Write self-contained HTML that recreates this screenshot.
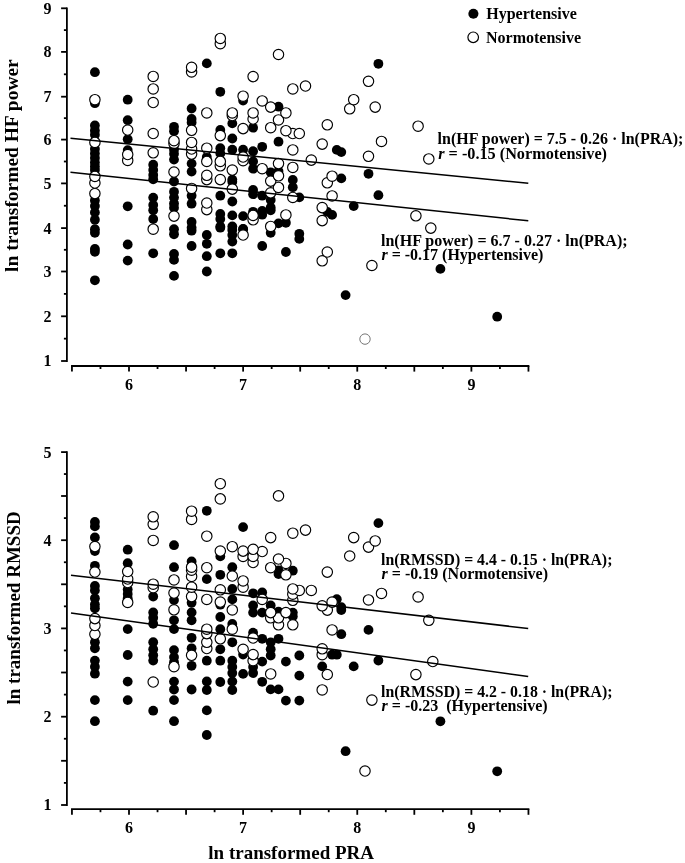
<!DOCTYPE html>
<html><head><meta charset="utf-8"><title>Scatter</title>
<style>html,body{margin:0;padding:0;background:#fff;}svg{display:block;will-change:transform;}</style>
</head><body>
<svg width="685" height="863" viewBox="0 0 685 863">
<rect width="685" height="863" fill="#fff"/>
<line x1="66.9" y1="7.4" x2="66.9" y2="361.9" stroke="#000" stroke-width="1.8"/>
<line x1="61.10000000000001" y1="361.00" x2="66.9" y2="361.00" stroke="#000" stroke-width="1.8"/>
<line x1="63.900000000000006" y1="338.65" x2="66.9" y2="338.65" stroke="#000" stroke-width="1.8"/>
<line x1="61.10000000000001" y1="316.30" x2="66.9" y2="316.30" stroke="#000" stroke-width="1.8"/>
<line x1="63.900000000000006" y1="293.90" x2="66.9" y2="293.90" stroke="#000" stroke-width="1.8"/>
<line x1="61.10000000000001" y1="271.50" x2="66.9" y2="271.50" stroke="#000" stroke-width="1.8"/>
<line x1="63.900000000000006" y1="249.80" x2="66.9" y2="249.80" stroke="#000" stroke-width="1.8"/>
<line x1="61.10000000000001" y1="228.10" x2="66.9" y2="228.10" stroke="#000" stroke-width="1.8"/>
<line x1="63.900000000000006" y1="205.75" x2="66.9" y2="205.75" stroke="#000" stroke-width="1.8"/>
<line x1="61.10000000000001" y1="183.40" x2="66.9" y2="183.40" stroke="#000" stroke-width="1.8"/>
<line x1="63.900000000000006" y1="161.50" x2="66.9" y2="161.50" stroke="#000" stroke-width="1.8"/>
<line x1="61.10000000000001" y1="139.60" x2="66.9" y2="139.60" stroke="#000" stroke-width="1.8"/>
<line x1="63.900000000000006" y1="118.15" x2="66.9" y2="118.15" stroke="#000" stroke-width="1.8"/>
<line x1="61.10000000000001" y1="96.70" x2="66.9" y2="96.70" stroke="#000" stroke-width="1.8"/>
<line x1="63.900000000000006" y1="74.30" x2="66.9" y2="74.30" stroke="#000" stroke-width="1.8"/>
<line x1="61.10000000000001" y1="51.90" x2="66.9" y2="51.90" stroke="#000" stroke-width="1.8"/>
<line x1="63.900000000000006" y1="30.10" x2="66.9" y2="30.10" stroke="#000" stroke-width="1.8"/>
<line x1="61.10000000000001" y1="8.30" x2="66.9" y2="8.30" stroke="#000" stroke-width="1.8"/>
<text x="47.5" y="13.7" text-anchor="middle" font-size="16" font-family="Liberation Serif" font-weight="bold">9</text>
<text x="47.5" y="57.3" text-anchor="middle" font-size="16" font-family="Liberation Serif" font-weight="bold">8</text>
<text x="47.5" y="102.1" text-anchor="middle" font-size="16" font-family="Liberation Serif" font-weight="bold">7</text>
<text x="47.5" y="145.0" text-anchor="middle" font-size="16" font-family="Liberation Serif" font-weight="bold">6</text>
<text x="47.5" y="188.8" text-anchor="middle" font-size="16" font-family="Liberation Serif" font-weight="bold">5</text>
<text x="47.5" y="233.5" text-anchor="middle" font-size="16" font-family="Liberation Serif" font-weight="bold">4</text>
<text x="47.5" y="276.9" text-anchor="middle" font-size="16" font-family="Liberation Serif" font-weight="bold">3</text>
<text x="47.5" y="321.7" text-anchor="middle" font-size="16" font-family="Liberation Serif" font-weight="bold">2</text>
<text x="47.5" y="366.4" text-anchor="middle" font-size="16" font-family="Liberation Serif" font-weight="bold">1</text>
<line x1="71.035" y1="366.0" x2="529.3549999999999" y2="366.0" stroke="#000" stroke-width="1.8"/>
<line x1="71.94" y1="366.0" x2="71.94" y2="371.6" stroke="#000" stroke-width="1.8"/>
<line x1="100.47" y1="366.0" x2="100.47" y2="369.0" stroke="#000" stroke-width="1.8"/>
<line x1="129.00" y1="366.0" x2="129.00" y2="371.6" stroke="#000" stroke-width="1.8"/>
<line x1="157.53" y1="366.0" x2="157.53" y2="369.0" stroke="#000" stroke-width="1.8"/>
<line x1="186.06" y1="366.0" x2="186.06" y2="371.6" stroke="#000" stroke-width="1.8"/>
<line x1="214.60" y1="366.0" x2="214.60" y2="369.0" stroke="#000" stroke-width="1.8"/>
<line x1="243.13" y1="366.0" x2="243.13" y2="371.6" stroke="#000" stroke-width="1.8"/>
<line x1="271.66" y1="366.0" x2="271.66" y2="369.0" stroke="#000" stroke-width="1.8"/>
<line x1="300.19" y1="366.0" x2="300.19" y2="371.6" stroke="#000" stroke-width="1.8"/>
<line x1="328.73" y1="366.0" x2="328.73" y2="369.0" stroke="#000" stroke-width="1.8"/>
<line x1="357.26" y1="366.0" x2="357.26" y2="371.6" stroke="#000" stroke-width="1.8"/>
<line x1="385.79" y1="366.0" x2="385.79" y2="369.0" stroke="#000" stroke-width="1.8"/>
<line x1="414.32" y1="366.0" x2="414.32" y2="371.6" stroke="#000" stroke-width="1.8"/>
<line x1="442.86" y1="366.0" x2="442.86" y2="369.0" stroke="#000" stroke-width="1.8"/>
<line x1="471.39" y1="366.0" x2="471.39" y2="371.6" stroke="#000" stroke-width="1.8"/>
<line x1="499.92" y1="366.0" x2="499.92" y2="369.0" stroke="#000" stroke-width="1.8"/>
<line x1="528.45" y1="366.0" x2="528.45" y2="371.6" stroke="#000" stroke-width="1.8"/>
<text x="129.0" y="389.7" text-anchor="middle" font-size="16" font-family="Liberation Serif" font-weight="bold">6</text>
<text x="243.1" y="389.7" text-anchor="middle" font-size="16" font-family="Liberation Serif" font-weight="bold">7</text>
<text x="357.3" y="389.7" text-anchor="middle" font-size="16" font-family="Liberation Serif" font-weight="bold">8</text>
<text x="471.4" y="389.7" text-anchor="middle" font-size="16" font-family="Liberation Serif" font-weight="bold">9</text>
<circle cx="94.9" cy="72.2" r="4.9"/>
<circle cx="94.9" cy="103.2" r="4.9"/>
<circle cx="127.7" cy="99.7" r="4.9"/>
<circle cx="127.7" cy="120.2" r="4.9"/>
<circle cx="191.6" cy="108.5" r="4.9"/>
<circle cx="206.8" cy="63.4" r="4.9"/>
<circle cx="220.3" cy="91.8" r="4.9"/>
<circle cx="243.1" cy="100.6" r="4.9"/>
<circle cx="278.5" cy="106.7" r="4.9"/>
<circle cx="191.6" cy="119.0" r="4.9"/>
<circle cx="191.6" cy="122.5" r="4.9"/>
<circle cx="232.3" cy="123.4" r="4.9"/>
<circle cx="253.1" cy="127.7" r="4.9"/>
<circle cx="220.3" cy="130.0" r="4.9"/>
<circle cx="378.4" cy="63.8" r="4.9"/>
<circle cx="94.9" cy="125.5" r="4.9"/>
<circle cx="94.9" cy="130.4" r="4.9"/>
<circle cx="94.9" cy="134.8" r="4.9"/>
<circle cx="94.9" cy="149.0" r="4.9"/>
<circle cx="94.9" cy="153.5" r="4.9"/>
<circle cx="94.9" cy="158.0" r="4.9"/>
<circle cx="94.9" cy="162.5" r="4.9"/>
<circle cx="94.9" cy="166.5" r="4.9"/>
<circle cx="94.9" cy="170.0" r="4.9"/>
<circle cx="94.9" cy="200.5" r="4.9"/>
<circle cx="94.9" cy="206.0" r="4.9"/>
<circle cx="127.7" cy="139.2" r="4.9"/>
<circle cx="127.7" cy="150.1" r="4.9"/>
<circle cx="127.7" cy="206.3" r="4.9"/>
<circle cx="153.2" cy="164.7" r="4.9"/>
<circle cx="153.2" cy="169.9" r="4.9"/>
<circle cx="153.2" cy="175.0" r="4.9"/>
<circle cx="153.2" cy="179.3" r="4.9"/>
<circle cx="153.2" cy="197.6" r="4.9"/>
<circle cx="153.2" cy="205.0" r="4.9"/>
<circle cx="174.0" cy="126.8" r="4.9"/>
<circle cx="174.0" cy="131.2" r="4.9"/>
<circle cx="174.0" cy="149.4" r="4.9"/>
<circle cx="174.0" cy="153.8" r="4.9"/>
<circle cx="174.0" cy="159.6" r="4.9"/>
<circle cx="174.0" cy="181.5" r="4.9"/>
<circle cx="174.0" cy="191.8" r="4.9"/>
<circle cx="174.0" cy="197.6" r="4.9"/>
<circle cx="174.0" cy="203.4" r="4.9"/>
<circle cx="174.0" cy="207.8" r="4.9"/>
<circle cx="94.9" cy="212.4" r="4.9"/>
<circle cx="94.9" cy="219.7" r="4.9"/>
<circle cx="94.9" cy="229.2" r="4.9"/>
<circle cx="94.9" cy="232.8" r="4.9"/>
<circle cx="94.9" cy="248.9" r="4.9"/>
<circle cx="94.9" cy="251.8" r="4.9"/>
<circle cx="94.9" cy="280.3" r="4.9"/>
<circle cx="127.7" cy="244.5" r="4.9"/>
<circle cx="127.7" cy="260.6" r="4.9"/>
<circle cx="153.2" cy="210.2" r="4.9"/>
<circle cx="153.2" cy="219.0" r="4.9"/>
<circle cx="153.2" cy="253.3" r="4.9"/>
<circle cx="174.0" cy="229.2" r="4.9"/>
<circle cx="174.0" cy="234.3" r="4.9"/>
<circle cx="174.0" cy="254.0" r="4.9"/>
<circle cx="174.0" cy="259.9" r="4.9"/>
<circle cx="174.0" cy="275.9" r="4.9"/>
<circle cx="191.6" cy="163.6" r="4.9"/>
<circle cx="191.6" cy="171.6" r="4.9"/>
<circle cx="191.6" cy="195.7" r="4.9"/>
<circle cx="191.6" cy="203.7" r="4.9"/>
<circle cx="191.6" cy="222.0" r="4.9"/>
<circle cx="191.6" cy="227.8" r="4.9"/>
<circle cx="206.8" cy="157.0" r="4.9"/>
<circle cx="220.3" cy="148.2" r="4.9"/>
<circle cx="220.3" cy="153.4" r="4.9"/>
<circle cx="220.3" cy="195.7" r="4.9"/>
<circle cx="220.3" cy="214.0" r="4.9"/>
<circle cx="220.3" cy="219.0" r="4.9"/>
<circle cx="220.3" cy="226.4" r="4.9"/>
<circle cx="232.3" cy="149.7" r="4.9"/>
<circle cx="232.3" cy="179.6" r="4.9"/>
<circle cx="232.3" cy="181.8" r="4.9"/>
<circle cx="232.3" cy="201.5" r="4.9"/>
<circle cx="232.3" cy="215.4" r="4.9"/>
<circle cx="232.3" cy="226.4" r="4.9"/>
<circle cx="243.1" cy="149.7" r="4.9"/>
<circle cx="243.1" cy="216.1" r="4.9"/>
<circle cx="243.1" cy="229.0" r="4.9"/>
<circle cx="253.1" cy="151.2" r="4.9"/>
<circle cx="253.1" cy="161.4" r="4.9"/>
<circle cx="253.1" cy="168.7" r="4.9"/>
<circle cx="253.1" cy="189.9" r="4.9"/>
<circle cx="253.1" cy="194.2" r="4.9"/>
<circle cx="253.1" cy="211.8" r="4.9"/>
<circle cx="262.2" cy="146.8" r="4.9"/>
<circle cx="262.2" cy="195.7" r="4.9"/>
<circle cx="262.2" cy="211.0" r="4.9"/>
<circle cx="262.2" cy="214.7" r="4.9"/>
<circle cx="270.7" cy="172.3" r="4.9"/>
<circle cx="270.7" cy="200.0" r="4.9"/>
<circle cx="270.7" cy="207.4" r="4.9"/>
<circle cx="270.7" cy="210.3" r="4.9"/>
<circle cx="278.5" cy="141.7" r="4.9"/>
<circle cx="278.5" cy="171.1" r="4.9"/>
<circle cx="336.8" cy="149.9" r="4.9"/>
<circle cx="341.3" cy="152.1" r="4.9"/>
<circle cx="292.8" cy="179.9" r="4.9"/>
<circle cx="292.8" cy="187.2" r="4.9"/>
<circle cx="341.3" cy="178.4" r="4.9"/>
<circle cx="299.3" cy="197.4" r="4.9"/>
<circle cx="353.7" cy="206.1" r="4.9"/>
<circle cx="332.1" cy="214.9" r="4.9"/>
<circle cx="191.6" cy="230.7" r="4.9"/>
<circle cx="191.6" cy="246.0" r="4.9"/>
<circle cx="206.8" cy="235.0" r="4.9"/>
<circle cx="206.8" cy="243.8" r="4.9"/>
<circle cx="206.8" cy="256.2" r="4.9"/>
<circle cx="206.8" cy="271.5" r="4.9"/>
<circle cx="220.3" cy="227.7" r="4.9"/>
<circle cx="220.3" cy="253.3" r="4.9"/>
<circle cx="232.3" cy="229.9" r="4.9"/>
<circle cx="232.3" cy="235.0" r="4.9"/>
<circle cx="232.3" cy="241.6" r="4.9"/>
<circle cx="232.3" cy="253.3" r="4.9"/>
<circle cx="243.1" cy="229.2" r="4.9"/>
<circle cx="262.2" cy="246.0" r="4.9"/>
<circle cx="270.7" cy="232.8" r="4.9"/>
<circle cx="278.5" cy="223.4" r="4.9"/>
<circle cx="327.3" cy="211.9" r="4.9"/>
<circle cx="285.9" cy="222.8" r="4.9"/>
<circle cx="299.3" cy="233.8" r="4.9"/>
<circle cx="299.3" cy="238.9" r="4.9"/>
<circle cx="285.9" cy="252.0" r="4.9"/>
<circle cx="368.5" cy="173.8" r="4.9"/>
<circle cx="378.4" cy="195.2" r="4.9"/>
<circle cx="345.6" cy="295.1" r="4.9"/>
<circle cx="440.4" cy="268.9" r="4.9"/>
<circle cx="497.2" cy="316.7" r="4.9"/>
<circle cx="232.3" cy="138.5" r="4.9"/>
<circle cx="365.0" cy="339.1" r="5.2" fill="#fff" stroke="#777" stroke-width="1.0"/>
<circle cx="371.9" cy="265.5" r="5.2" fill="#fff" stroke="#000" stroke-width="1.15"/>
<circle cx="322.2" cy="260.8" r="5.2" fill="#fff" stroke="#000" stroke-width="1.15"/>
<circle cx="327.3" cy="252.0" r="5.2" fill="#fff" stroke="#000" stroke-width="1.15"/>
<circle cx="243.1" cy="235.0" r="5.2" fill="#fff" stroke="#000" stroke-width="1.15"/>
<circle cx="153.2" cy="229.2" r="5.2" fill="#fff" stroke="#000" stroke-width="1.15"/>
<circle cx="430.8" cy="228.1" r="5.2" fill="#fff" stroke="#000" stroke-width="1.15"/>
<circle cx="270.7" cy="226.4" r="5.2" fill="#fff" stroke="#000" stroke-width="1.15"/>
<circle cx="322.2" cy="220.6" r="5.2" fill="#fff" stroke="#000" stroke-width="1.15"/>
<circle cx="253.1" cy="219.8" r="5.2" fill="#fff" stroke="#000" stroke-width="1.15"/>
<circle cx="174.0" cy="216.1" r="5.2" fill="#fff" stroke="#000" stroke-width="1.15"/>
<circle cx="415.9" cy="215.8" r="5.2" fill="#fff" stroke="#000" stroke-width="1.15"/>
<circle cx="253.1" cy="215.4" r="5.2" fill="#fff" stroke="#000" stroke-width="1.15"/>
<circle cx="285.9" cy="214.9" r="5.2" fill="#fff" stroke="#000" stroke-width="1.15"/>
<circle cx="206.8" cy="209.6" r="5.2" fill="#fff" stroke="#000" stroke-width="1.15"/>
<circle cx="322.2" cy="207.6" r="5.2" fill="#fff" stroke="#000" stroke-width="1.15"/>
<circle cx="206.8" cy="203.0" r="5.2" fill="#fff" stroke="#000" stroke-width="1.15"/>
<circle cx="292.8" cy="197.4" r="5.2" fill="#fff" stroke="#000" stroke-width="1.15"/>
<circle cx="332.1" cy="195.9" r="5.2" fill="#fff" stroke="#000" stroke-width="1.15"/>
<circle cx="94.9" cy="193.6" r="5.2" fill="#fff" stroke="#000" stroke-width="1.15"/>
<circle cx="270.7" cy="192.8" r="5.2" fill="#fff" stroke="#000" stroke-width="1.15"/>
<circle cx="232.3" cy="189.1" r="5.2" fill="#fff" stroke="#000" stroke-width="1.15"/>
<circle cx="191.6" cy="188.4" r="5.2" fill="#fff" stroke="#000" stroke-width="1.15"/>
<circle cx="278.5" cy="187.4" r="5.2" fill="#fff" stroke="#000" stroke-width="1.15"/>
<circle cx="94.9" cy="183.0" r="5.2" fill="#fff" stroke="#000" stroke-width="1.15"/>
<circle cx="327.3" cy="182.8" r="5.2" fill="#fff" stroke="#000" stroke-width="1.15"/>
<circle cx="270.7" cy="181.1" r="5.2" fill="#fff" stroke="#000" stroke-width="1.15"/>
<circle cx="206.8" cy="179.6" r="5.2" fill="#fff" stroke="#000" stroke-width="1.15"/>
<circle cx="220.3" cy="179.6" r="5.2" fill="#fff" stroke="#000" stroke-width="1.15"/>
<circle cx="94.9" cy="176.4" r="5.2" fill="#fff" stroke="#000" stroke-width="1.15"/>
<circle cx="332.1" cy="176.2" r="5.2" fill="#fff" stroke="#000" stroke-width="1.15"/>
<circle cx="278.5" cy="175.8" r="5.2" fill="#fff" stroke="#000" stroke-width="1.15"/>
<circle cx="206.8" cy="175.3" r="5.2" fill="#fff" stroke="#000" stroke-width="1.15"/>
<circle cx="174.0" cy="172.0" r="5.2" fill="#fff" stroke="#000" stroke-width="1.15"/>
<circle cx="232.3" cy="170.1" r="5.2" fill="#fff" stroke="#000" stroke-width="1.15"/>
<circle cx="262.2" cy="168.7" r="5.2" fill="#fff" stroke="#000" stroke-width="1.15"/>
<circle cx="292.8" cy="167.4" r="5.2" fill="#fff" stroke="#000" stroke-width="1.15"/>
<circle cx="220.3" cy="165.8" r="5.2" fill="#fff" stroke="#000" stroke-width="1.15"/>
<circle cx="278.5" cy="163.6" r="5.2" fill="#fff" stroke="#000" stroke-width="1.15"/>
<circle cx="206.8" cy="161.4" r="5.2" fill="#fff" stroke="#000" stroke-width="1.15"/>
<circle cx="220.3" cy="161.4" r="5.2" fill="#fff" stroke="#000" stroke-width="1.15"/>
<circle cx="243.1" cy="160.7" r="5.2" fill="#fff" stroke="#000" stroke-width="1.15"/>
<circle cx="127.7" cy="160.4" r="5.2" fill="#fff" stroke="#000" stroke-width="1.15"/>
<circle cx="311.3" cy="160.1" r="5.2" fill="#fff" stroke="#000" stroke-width="1.15"/>
<circle cx="428.8" cy="158.9" r="5.2" fill="#fff" stroke="#000" stroke-width="1.15"/>
<circle cx="243.1" cy="157.0" r="5.2" fill="#fff" stroke="#000" stroke-width="1.15"/>
<circle cx="368.5" cy="156.3" r="5.2" fill="#fff" stroke="#000" stroke-width="1.15"/>
<circle cx="127.7" cy="154.5" r="5.2" fill="#fff" stroke="#000" stroke-width="1.15"/>
<circle cx="191.6" cy="154.1" r="5.2" fill="#fff" stroke="#000" stroke-width="1.15"/>
<circle cx="153.2" cy="152.8" r="5.2" fill="#fff" stroke="#000" stroke-width="1.15"/>
<circle cx="292.8" cy="149.9" r="5.2" fill="#fff" stroke="#000" stroke-width="1.15"/>
<circle cx="191.6" cy="149.0" r="5.2" fill="#fff" stroke="#000" stroke-width="1.15"/>
<circle cx="206.8" cy="148.2" r="5.2" fill="#fff" stroke="#000" stroke-width="1.15"/>
<circle cx="322.2" cy="144.1" r="5.2" fill="#fff" stroke="#000" stroke-width="1.15"/>
<circle cx="174.0" cy="143.6" r="5.2" fill="#fff" stroke="#000" stroke-width="1.15"/>
<circle cx="94.9" cy="142.4" r="5.2" fill="#fff" stroke="#000" stroke-width="1.15"/>
<circle cx="191.6" cy="142.4" r="5.2" fill="#fff" stroke="#000" stroke-width="1.15"/>
<circle cx="381.5" cy="141.4" r="5.2" fill="#fff" stroke="#000" stroke-width="1.15"/>
<circle cx="174.0" cy="140.7" r="5.2" fill="#fff" stroke="#000" stroke-width="1.15"/>
<circle cx="220.3" cy="135.6" r="5.2" fill="#fff" stroke="#000" stroke-width="1.15"/>
<circle cx="153.2" cy="133.5" r="5.2" fill="#fff" stroke="#000" stroke-width="1.15"/>
<circle cx="292.8" cy="133.5" r="5.2" fill="#fff" stroke="#000" stroke-width="1.15"/>
<circle cx="299.3" cy="133.5" r="5.2" fill="#fff" stroke="#000" stroke-width="1.15"/>
<circle cx="285.9" cy="130.7" r="5.2" fill="#fff" stroke="#000" stroke-width="1.15"/>
<circle cx="191.6" cy="130.3" r="5.2" fill="#fff" stroke="#000" stroke-width="1.15"/>
<circle cx="127.7" cy="130.0" r="5.2" fill="#fff" stroke="#000" stroke-width="1.15"/>
<circle cx="243.1" cy="128.6" r="5.2" fill="#fff" stroke="#000" stroke-width="1.15"/>
<circle cx="270.7" cy="127.7" r="5.2" fill="#fff" stroke="#000" stroke-width="1.15"/>
<circle cx="418.1" cy="126.2" r="5.2" fill="#fff" stroke="#000" stroke-width="1.15"/>
<circle cx="327.3" cy="124.8" r="5.2" fill="#fff" stroke="#000" stroke-width="1.15"/>
<circle cx="278.5" cy="119.9" r="5.2" fill="#fff" stroke="#000" stroke-width="1.15"/>
<circle cx="253.1" cy="119.0" r="5.2" fill="#fff" stroke="#000" stroke-width="1.15"/>
<circle cx="232.3" cy="115.5" r="5.2" fill="#fff" stroke="#000" stroke-width="1.15"/>
<circle cx="285.9" cy="112.9" r="5.2" fill="#fff" stroke="#000" stroke-width="1.15"/>
<circle cx="206.8" cy="112.9" r="5.2" fill="#fff" stroke="#000" stroke-width="1.15"/>
<circle cx="232.3" cy="112.9" r="5.2" fill="#fff" stroke="#000" stroke-width="1.15"/>
<circle cx="253.1" cy="112.9" r="5.2" fill="#fff" stroke="#000" stroke-width="1.15"/>
<circle cx="349.7" cy="108.8" r="5.2" fill="#fff" stroke="#000" stroke-width="1.15"/>
<circle cx="270.7" cy="107.1" r="5.2" fill="#fff" stroke="#000" stroke-width="1.15"/>
<circle cx="375.2" cy="107.1" r="5.2" fill="#fff" stroke="#000" stroke-width="1.15"/>
<circle cx="153.2" cy="102.5" r="5.2" fill="#fff" stroke="#000" stroke-width="1.15"/>
<circle cx="262.2" cy="100.9" r="5.2" fill="#fff" stroke="#000" stroke-width="1.15"/>
<circle cx="94.9" cy="99.7" r="5.2" fill="#fff" stroke="#000" stroke-width="1.15"/>
<circle cx="353.7" cy="99.7" r="5.2" fill="#fff" stroke="#000" stroke-width="1.15"/>
<circle cx="243.1" cy="96.2" r="5.2" fill="#fff" stroke="#000" stroke-width="1.15"/>
<circle cx="153.2" cy="88.9" r="5.2" fill="#fff" stroke="#000" stroke-width="1.15"/>
<circle cx="292.8" cy="88.9" r="5.2" fill="#fff" stroke="#000" stroke-width="1.15"/>
<circle cx="305.5" cy="86.0" r="5.2" fill="#fff" stroke="#000" stroke-width="1.15"/>
<circle cx="368.5" cy="81.3" r="5.2" fill="#fff" stroke="#000" stroke-width="1.15"/>
<circle cx="253.1" cy="76.6" r="5.2" fill="#fff" stroke="#000" stroke-width="1.15"/>
<circle cx="153.2" cy="76.4" r="5.2" fill="#fff" stroke="#000" stroke-width="1.15"/>
<circle cx="191.6" cy="71.9" r="5.2" fill="#fff" stroke="#000" stroke-width="1.15"/>
<circle cx="191.6" cy="67.3" r="5.2" fill="#fff" stroke="#000" stroke-width="1.15"/>
<circle cx="278.5" cy="54.5" r="5.2" fill="#fff" stroke="#000" stroke-width="1.15"/>
<circle cx="220.3" cy="43.7" r="5.2" fill="#fff" stroke="#000" stroke-width="1.15"/>
<circle cx="220.3" cy="38.4" r="5.2" fill="#fff" stroke="#000" stroke-width="1.15"/>
<line x1="70.5" y1="138.2" x2="528.3" y2="183.3" stroke="#000" stroke-width="1.5"/>
<line x1="70.5" y1="172.3" x2="528.3" y2="220.8" stroke="#000" stroke-width="1.5"/>
<circle cx="473.4" cy="13.8" r="5.05"/>
<circle cx="473.2" cy="37.3" r="5.3" fill="#fff" stroke="#000" stroke-width="1.2"/>
<text x="486.2" y="18.8" font-size="16" font-family="Liberation Serif" font-weight="bold">Hypertensive</text>
<text x="486.0" y="43.2" font-size="16" font-family="Liberation Serif" font-weight="bold">Normotensive</text>
<text x="437.6" y="143.6" font-size="16" textLength="245.8" lengthAdjust="spacingAndGlyphs" font-family="Liberation Serif" font-weight="bold">ln(HF power) = 7.5 - 0.26 · ln(PRA);</text>
<text x="438.2" y="158.8" font-size="16" textLength="168.8" lengthAdjust="spacingAndGlyphs" font-family="Liberation Serif" font-weight="bold"><tspan font-style="italic">r</tspan> = -0.15 (Normotensive)</text>
<text x="381.0" y="246.1" font-size="16" textLength="246.6" lengthAdjust="spacingAndGlyphs" font-family="Liberation Serif" font-weight="bold">ln(HF power) = 6.7 - 0.27 · ln(PRA);</text>
<text x="381.4" y="259.8" font-size="16" font-family="Liberation Serif" font-weight="bold"><tspan font-style="italic">r</tspan> = -0.17 (Hypertensive)</text>
<text transform="translate(18.1,271.9) rotate(-90)" font-size="19" textLength="212.6" lengthAdjust="spacingAndGlyphs" font-family="Liberation Serif" font-weight="bold">ln transformed HF power</text>
<line x1="66.9" y1="451.20000000000005" x2="66.9" y2="805.9" stroke="#000" stroke-width="1.8"/>
<line x1="61.10000000000001" y1="805.00" x2="66.9" y2="805.00" stroke="#000" stroke-width="1.8"/>
<line x1="63.900000000000006" y1="782.90" x2="66.9" y2="782.90" stroke="#000" stroke-width="1.8"/>
<line x1="61.10000000000001" y1="760.80" x2="66.9" y2="760.80" stroke="#000" stroke-width="1.8"/>
<line x1="63.900000000000006" y1="738.75" x2="66.9" y2="738.75" stroke="#000" stroke-width="1.8"/>
<line x1="61.10000000000001" y1="716.70" x2="66.9" y2="716.70" stroke="#000" stroke-width="1.8"/>
<line x1="63.900000000000006" y1="694.60" x2="66.9" y2="694.60" stroke="#000" stroke-width="1.8"/>
<line x1="61.10000000000001" y1="672.50" x2="66.9" y2="672.50" stroke="#000" stroke-width="1.8"/>
<line x1="63.900000000000006" y1="650.45" x2="66.9" y2="650.45" stroke="#000" stroke-width="1.8"/>
<line x1="61.10000000000001" y1="628.40" x2="66.9" y2="628.40" stroke="#000" stroke-width="1.8"/>
<line x1="63.900000000000006" y1="606.35" x2="66.9" y2="606.35" stroke="#000" stroke-width="1.8"/>
<line x1="61.10000000000001" y1="584.30" x2="66.9" y2="584.30" stroke="#000" stroke-width="1.8"/>
<line x1="63.900000000000006" y1="562.25" x2="66.9" y2="562.25" stroke="#000" stroke-width="1.8"/>
<line x1="61.10000000000001" y1="540.20" x2="66.9" y2="540.20" stroke="#000" stroke-width="1.8"/>
<line x1="63.900000000000006" y1="518.10" x2="66.9" y2="518.10" stroke="#000" stroke-width="1.8"/>
<line x1="61.10000000000001" y1="496.00" x2="66.9" y2="496.00" stroke="#000" stroke-width="1.8"/>
<line x1="63.900000000000006" y1="474.05" x2="66.9" y2="474.05" stroke="#000" stroke-width="1.8"/>
<line x1="61.10000000000001" y1="452.10" x2="66.9" y2="452.10" stroke="#000" stroke-width="1.8"/>
<text x="47.5" y="457.5" text-anchor="middle" font-size="16" font-family="Liberation Serif" font-weight="bold">5</text>
<text x="47.5" y="545.6" text-anchor="middle" font-size="16" font-family="Liberation Serif" font-weight="bold">4</text>
<text x="47.5" y="633.8" text-anchor="middle" font-size="16" font-family="Liberation Serif" font-weight="bold">3</text>
<text x="47.5" y="722.1" text-anchor="middle" font-size="16" font-family="Liberation Serif" font-weight="bold">2</text>
<text x="47.5" y="810.4" text-anchor="middle" font-size="16" font-family="Liberation Serif" font-weight="bold">1</text>
<line x1="71.035" y1="809.2" x2="529.3549999999999" y2="809.2" stroke="#000" stroke-width="1.8"/>
<line x1="71.94" y1="809.2" x2="71.94" y2="814.8000000000001" stroke="#000" stroke-width="1.8"/>
<line x1="100.47" y1="809.2" x2="100.47" y2="812.2" stroke="#000" stroke-width="1.8"/>
<line x1="129.00" y1="809.2" x2="129.00" y2="814.8000000000001" stroke="#000" stroke-width="1.8"/>
<line x1="157.53" y1="809.2" x2="157.53" y2="812.2" stroke="#000" stroke-width="1.8"/>
<line x1="186.06" y1="809.2" x2="186.06" y2="814.8000000000001" stroke="#000" stroke-width="1.8"/>
<line x1="214.60" y1="809.2" x2="214.60" y2="812.2" stroke="#000" stroke-width="1.8"/>
<line x1="243.13" y1="809.2" x2="243.13" y2="814.8000000000001" stroke="#000" stroke-width="1.8"/>
<line x1="271.66" y1="809.2" x2="271.66" y2="812.2" stroke="#000" stroke-width="1.8"/>
<line x1="300.19" y1="809.2" x2="300.19" y2="814.8000000000001" stroke="#000" stroke-width="1.8"/>
<line x1="328.73" y1="809.2" x2="328.73" y2="812.2" stroke="#000" stroke-width="1.8"/>
<line x1="357.26" y1="809.2" x2="357.26" y2="814.8000000000001" stroke="#000" stroke-width="1.8"/>
<line x1="385.79" y1="809.2" x2="385.79" y2="812.2" stroke="#000" stroke-width="1.8"/>
<line x1="414.32" y1="809.2" x2="414.32" y2="814.8000000000001" stroke="#000" stroke-width="1.8"/>
<line x1="442.86" y1="809.2" x2="442.86" y2="812.2" stroke="#000" stroke-width="1.8"/>
<line x1="471.39" y1="809.2" x2="471.39" y2="814.8000000000001" stroke="#000" stroke-width="1.8"/>
<line x1="499.92" y1="809.2" x2="499.92" y2="812.2" stroke="#000" stroke-width="1.8"/>
<line x1="528.45" y1="809.2" x2="528.45" y2="814.8000000000001" stroke="#000" stroke-width="1.8"/>
<text x="129.0" y="832.9" text-anchor="middle" font-size="16" font-family="Liberation Serif" font-weight="bold">6</text>
<text x="243.1" y="832.9" text-anchor="middle" font-size="16" font-family="Liberation Serif" font-weight="bold">7</text>
<text x="357.3" y="832.9" text-anchor="middle" font-size="16" font-family="Liberation Serif" font-weight="bold">8</text>
<text x="471.4" y="832.9" text-anchor="middle" font-size="16" font-family="Liberation Serif" font-weight="bold">9</text>
<circle cx="94.9" cy="522.0" r="4.9"/>
<circle cx="94.9" cy="526.4" r="4.9"/>
<circle cx="94.9" cy="537.5" r="4.9"/>
<circle cx="94.9" cy="551.0" r="4.9"/>
<circle cx="94.9" cy="565.8" r="4.9"/>
<circle cx="94.9" cy="586.0" r="4.9"/>
<circle cx="94.9" cy="590.4" r="4.9"/>
<circle cx="94.9" cy="598.3" r="4.9"/>
<circle cx="127.7" cy="549.7" r="4.9"/>
<circle cx="127.7" cy="563.2" r="4.9"/>
<circle cx="127.7" cy="589.5" r="4.9"/>
<circle cx="127.7" cy="593.9" r="4.9"/>
<circle cx="127.7" cy="598.3" r="4.9"/>
<circle cx="153.2" cy="596.5" r="4.9"/>
<circle cx="174.0" cy="545.2" r="4.9"/>
<circle cx="174.0" cy="567.2" r="4.9"/>
<circle cx="191.6" cy="561.5" r="4.9"/>
<circle cx="94.9" cy="604.5" r="4.9"/>
<circle cx="94.9" cy="608.3" r="4.9"/>
<circle cx="94.9" cy="642.2" r="4.9"/>
<circle cx="94.9" cy="648.3" r="4.9"/>
<circle cx="94.9" cy="660.6" r="4.9"/>
<circle cx="94.9" cy="666.7" r="4.9"/>
<circle cx="94.9" cy="673.7" r="4.9"/>
<circle cx="94.9" cy="700.1" r="4.9"/>
<circle cx="127.7" cy="629.1" r="4.9"/>
<circle cx="127.7" cy="655.0" r="4.9"/>
<circle cx="127.7" cy="681.6" r="4.9"/>
<circle cx="127.7" cy="700.1" r="4.9"/>
<circle cx="153.2" cy="612.4" r="4.9"/>
<circle cx="153.2" cy="617.7" r="4.9"/>
<circle cx="153.2" cy="623.8" r="4.9"/>
<circle cx="153.2" cy="642.2" r="4.9"/>
<circle cx="153.2" cy="649.2" r="4.9"/>
<circle cx="153.2" cy="655.3" r="4.9"/>
<circle cx="153.2" cy="660.6" r="4.9"/>
<circle cx="174.0" cy="600.1" r="4.9"/>
<circle cx="174.0" cy="620.3" r="4.9"/>
<circle cx="174.0" cy="629.1" r="4.9"/>
<circle cx="174.0" cy="650.1" r="4.9"/>
<circle cx="174.0" cy="657.1" r="4.9"/>
<circle cx="174.0" cy="662.3" r="4.9"/>
<circle cx="174.0" cy="681.6" r="4.9"/>
<circle cx="174.0" cy="689.5" r="4.9"/>
<circle cx="174.0" cy="700.1" r="4.9"/>
<circle cx="191.6" cy="602.8" r="4.9"/>
<circle cx="191.6" cy="612.4" r="4.9"/>
<circle cx="191.6" cy="620.3" r="4.9"/>
<circle cx="191.6" cy="637.8" r="4.9"/>
<circle cx="191.6" cy="648.3" r="4.9"/>
<circle cx="191.6" cy="665.8" r="4.9"/>
<circle cx="191.6" cy="689.5" r="4.9"/>
<circle cx="94.9" cy="721.2" r="4.9"/>
<circle cx="153.2" cy="710.7" r="4.9"/>
<circle cx="174.0" cy="721.2" r="4.9"/>
<circle cx="206.8" cy="510.8" r="4.9"/>
<circle cx="243.1" cy="527.1" r="4.9"/>
<circle cx="220.3" cy="556.4" r="4.9"/>
<circle cx="232.3" cy="567.2" r="4.9"/>
<circle cx="220.3" cy="574.8" r="4.9"/>
<circle cx="206.8" cy="579.1" r="4.9"/>
<circle cx="278.5" cy="570.4" r="4.9"/>
<circle cx="278.5" cy="574.0" r="4.9"/>
<circle cx="292.8" cy="570.7" r="4.9"/>
<circle cx="206.8" cy="660.7" r="4.9"/>
<circle cx="206.8" cy="681.5" r="4.9"/>
<circle cx="220.3" cy="604.7" r="4.9"/>
<circle cx="220.3" cy="617.0" r="4.9"/>
<circle cx="220.3" cy="629.2" r="4.9"/>
<circle cx="220.3" cy="649.3" r="4.9"/>
<circle cx="220.3" cy="660.7" r="4.9"/>
<circle cx="220.3" cy="682.0" r="4.9"/>
<circle cx="232.3" cy="588.9" r="4.9"/>
<circle cx="232.3" cy="599.4" r="4.9"/>
<circle cx="232.3" cy="624.0" r="4.9"/>
<circle cx="232.3" cy="642.3" r="4.9"/>
<circle cx="232.3" cy="660.7" r="4.9"/>
<circle cx="232.3" cy="666.9" r="4.9"/>
<circle cx="232.3" cy="673.0" r="4.9"/>
<circle cx="243.1" cy="654.6" r="4.9"/>
<circle cx="243.1" cy="673.9" r="4.9"/>
<circle cx="253.1" cy="593.3" r="4.9"/>
<circle cx="253.1" cy="605.5" r="4.9"/>
<circle cx="253.1" cy="612.6" r="4.9"/>
<circle cx="253.1" cy="632.7" r="4.9"/>
<circle cx="253.1" cy="666.9" r="4.9"/>
<circle cx="253.1" cy="673.0" r="4.9"/>
<circle cx="262.2" cy="592.4" r="4.9"/>
<circle cx="262.2" cy="612.6" r="4.9"/>
<circle cx="262.2" cy="638.8" r="4.9"/>
<circle cx="262.2" cy="661.6" r="4.9"/>
<circle cx="270.7" cy="605.5" r="4.9"/>
<circle cx="270.7" cy="642.3" r="4.9"/>
<circle cx="270.7" cy="649.3" r="4.9"/>
<circle cx="270.7" cy="655.5" r="4.9"/>
<circle cx="278.5" cy="611.7" r="4.9"/>
<circle cx="278.5" cy="638.8" r="4.9"/>
<circle cx="292.8" cy="612.6" r="4.9"/>
<circle cx="285.9" cy="661.6" r="4.9"/>
<circle cx="299.3" cy="655.5" r="4.9"/>
<circle cx="299.3" cy="675.6" r="4.9"/>
<circle cx="206.8" cy="690.0" r="4.9"/>
<circle cx="206.8" cy="710.4" r="4.9"/>
<circle cx="206.8" cy="735.0" r="4.9"/>
<circle cx="232.3" cy="681.5" r="4.9"/>
<circle cx="232.3" cy="690.0" r="4.9"/>
<circle cx="262.2" cy="681.8" r="4.9"/>
<circle cx="270.7" cy="689.4" r="4.9"/>
<circle cx="278.5" cy="689.4" r="4.9"/>
<circle cx="285.9" cy="700.6" r="4.9"/>
<circle cx="292.8" cy="616.4" r="4.9"/>
<circle cx="299.3" cy="700.6" r="4.9"/>
<circle cx="378.4" cy="523.1" r="4.9"/>
<circle cx="336.8" cy="599.2" r="4.9"/>
<circle cx="341.3" cy="607.2" r="4.9"/>
<circle cx="341.3" cy="610.1" r="4.9"/>
<circle cx="341.3" cy="634.2" r="4.9"/>
<circle cx="368.5" cy="629.9" r="4.9"/>
<circle cx="332.1" cy="654.7" r="4.9"/>
<circle cx="336.8" cy="654.7" r="4.9"/>
<circle cx="378.4" cy="660.5" r="4.9"/>
<circle cx="322.2" cy="666.4" r="4.9"/>
<circle cx="353.7" cy="666.4" r="4.9"/>
<circle cx="345.6" cy="751.2" r="4.9"/>
<circle cx="440.4" cy="721.3" r="4.9"/>
<circle cx="497.2" cy="771.3" r="4.9"/>
<circle cx="365.0" cy="771.0" r="5.2" fill="#fff" stroke="#000" stroke-width="1.15"/>
<circle cx="371.9" cy="700.1" r="5.2" fill="#fff" stroke="#000" stroke-width="1.15"/>
<circle cx="322.2" cy="689.9" r="5.2" fill="#fff" stroke="#000" stroke-width="1.15"/>
<circle cx="153.2" cy="682.0" r="5.2" fill="#fff" stroke="#000" stroke-width="1.15"/>
<circle cx="415.9" cy="674.6" r="5.2" fill="#fff" stroke="#000" stroke-width="1.15"/>
<circle cx="327.3" cy="674.5" r="5.2" fill="#fff" stroke="#000" stroke-width="1.15"/>
<circle cx="270.7" cy="673.9" r="5.2" fill="#fff" stroke="#000" stroke-width="1.15"/>
<circle cx="174.0" cy="666.7" r="5.2" fill="#fff" stroke="#000" stroke-width="1.15"/>
<circle cx="432.8" cy="661.5" r="5.2" fill="#fff" stroke="#000" stroke-width="1.15"/>
<circle cx="253.1" cy="660.7" r="5.2" fill="#fff" stroke="#000" stroke-width="1.15"/>
<circle cx="191.6" cy="655.3" r="5.2" fill="#fff" stroke="#000" stroke-width="1.15"/>
<circle cx="322.2" cy="654.7" r="5.2" fill="#fff" stroke="#000" stroke-width="1.15"/>
<circle cx="253.1" cy="654.6" r="5.2" fill="#fff" stroke="#000" stroke-width="1.15"/>
<circle cx="243.1" cy="649.3" r="5.2" fill="#fff" stroke="#000" stroke-width="1.15"/>
<circle cx="322.2" cy="648.8" r="5.2" fill="#fff" stroke="#000" stroke-width="1.15"/>
<circle cx="206.8" cy="648.5" r="5.2" fill="#fff" stroke="#000" stroke-width="1.15"/>
<circle cx="206.8" cy="642.3" r="5.2" fill="#fff" stroke="#000" stroke-width="1.15"/>
<circle cx="220.3" cy="638.8" r="5.2" fill="#fff" stroke="#000" stroke-width="1.15"/>
<circle cx="253.1" cy="638.0" r="5.2" fill="#fff" stroke="#000" stroke-width="1.15"/>
<circle cx="94.9" cy="634.3" r="5.2" fill="#fff" stroke="#000" stroke-width="1.15"/>
<circle cx="206.8" cy="633.6" r="5.2" fill="#fff" stroke="#000" stroke-width="1.15"/>
<circle cx="332.1" cy="629.9" r="5.2" fill="#fff" stroke="#000" stroke-width="1.15"/>
<circle cx="206.8" cy="629.2" r="5.2" fill="#fff" stroke="#000" stroke-width="1.15"/>
<circle cx="232.3" cy="629.2" r="5.2" fill="#fff" stroke="#000" stroke-width="1.15"/>
<circle cx="94.9" cy="625.5" r="5.2" fill="#fff" stroke="#000" stroke-width="1.15"/>
<circle cx="278.5" cy="624.8" r="5.2" fill="#fff" stroke="#000" stroke-width="1.15"/>
<circle cx="292.8" cy="624.8" r="5.2" fill="#fff" stroke="#000" stroke-width="1.15"/>
<circle cx="428.8" cy="620.3" r="5.2" fill="#fff" stroke="#000" stroke-width="1.15"/>
<circle cx="94.9" cy="618.6" r="5.2" fill="#fff" stroke="#000" stroke-width="1.15"/>
<circle cx="270.7" cy="617.8" r="5.2" fill="#fff" stroke="#000" stroke-width="1.15"/>
<circle cx="278.5" cy="617.8" r="5.2" fill="#fff" stroke="#000" stroke-width="1.15"/>
<circle cx="270.7" cy="612.6" r="5.2" fill="#fff" stroke="#000" stroke-width="1.15"/>
<circle cx="285.9" cy="612.6" r="5.2" fill="#fff" stroke="#000" stroke-width="1.15"/>
<circle cx="327.3" cy="610.1" r="5.2" fill="#fff" stroke="#000" stroke-width="1.15"/>
<circle cx="232.3" cy="609.9" r="5.2" fill="#fff" stroke="#000" stroke-width="1.15"/>
<circle cx="174.0" cy="609.8" r="5.2" fill="#fff" stroke="#000" stroke-width="1.15"/>
<circle cx="322.2" cy="605.8" r="5.2" fill="#fff" stroke="#000" stroke-width="1.15"/>
<circle cx="127.7" cy="602.4" r="5.2" fill="#fff" stroke="#000" stroke-width="1.15"/>
<circle cx="332.1" cy="602.1" r="5.2" fill="#fff" stroke="#000" stroke-width="1.15"/>
<circle cx="220.3" cy="602.0" r="5.2" fill="#fff" stroke="#000" stroke-width="1.15"/>
<circle cx="292.8" cy="600.3" r="5.2" fill="#fff" stroke="#000" stroke-width="1.15"/>
<circle cx="368.5" cy="599.9" r="5.2" fill="#fff" stroke="#000" stroke-width="1.15"/>
<circle cx="206.8" cy="599.4" r="5.2" fill="#fff" stroke="#000" stroke-width="1.15"/>
<circle cx="262.2" cy="599.4" r="5.2" fill="#fff" stroke="#000" stroke-width="1.15"/>
<circle cx="418.1" cy="596.9" r="5.2" fill="#fff" stroke="#000" stroke-width="1.15"/>
<circle cx="191.6" cy="596.6" r="5.2" fill="#fff" stroke="#000" stroke-width="1.15"/>
<circle cx="292.8" cy="594.2" r="5.2" fill="#fff" stroke="#000" stroke-width="1.15"/>
<circle cx="381.5" cy="593.4" r="5.2" fill="#fff" stroke="#000" stroke-width="1.15"/>
<circle cx="174.0" cy="593.0" r="5.2" fill="#fff" stroke="#000" stroke-width="1.15"/>
<circle cx="311.3" cy="590.4" r="5.2" fill="#fff" stroke="#000" stroke-width="1.15"/>
<circle cx="299.3" cy="590.4" r="5.2" fill="#fff" stroke="#000" stroke-width="1.15"/>
<circle cx="220.3" cy="589.8" r="5.2" fill="#fff" stroke="#000" stroke-width="1.15"/>
<circle cx="292.8" cy="588.9" r="5.2" fill="#fff" stroke="#000" stroke-width="1.15"/>
<circle cx="153.2" cy="587.7" r="5.2" fill="#fff" stroke="#000" stroke-width="1.15"/>
<circle cx="191.6" cy="587.2" r="5.2" fill="#fff" stroke="#000" stroke-width="1.15"/>
<circle cx="243.1" cy="587.2" r="5.2" fill="#fff" stroke="#000" stroke-width="1.15"/>
<circle cx="153.2" cy="584.2" r="5.2" fill="#fff" stroke="#000" stroke-width="1.15"/>
<circle cx="127.7" cy="582.5" r="5.2" fill="#fff" stroke="#000" stroke-width="1.15"/>
<circle cx="243.1" cy="580.9" r="5.2" fill="#fff" stroke="#000" stroke-width="1.15"/>
<circle cx="174.0" cy="579.9" r="5.2" fill="#fff" stroke="#000" stroke-width="1.15"/>
<circle cx="127.7" cy="579.0" r="5.2" fill="#fff" stroke="#000" stroke-width="1.15"/>
<circle cx="191.6" cy="576.4" r="5.2" fill="#fff" stroke="#000" stroke-width="1.15"/>
<circle cx="232.3" cy="576.0" r="5.2" fill="#fff" stroke="#000" stroke-width="1.15"/>
<circle cx="285.9" cy="574.8" r="5.2" fill="#fff" stroke="#000" stroke-width="1.15"/>
<circle cx="327.3" cy="572.1" r="5.2" fill="#fff" stroke="#000" stroke-width="1.15"/>
<circle cx="94.9" cy="572.0" r="5.2" fill="#fff" stroke="#000" stroke-width="1.15"/>
<circle cx="127.7" cy="571.5" r="5.2" fill="#fff" stroke="#000" stroke-width="1.15"/>
<circle cx="191.6" cy="570.2" r="5.2" fill="#fff" stroke="#000" stroke-width="1.15"/>
<circle cx="206.8" cy="567.7" r="5.2" fill="#fff" stroke="#000" stroke-width="1.15"/>
<circle cx="270.7" cy="567.7" r="5.2" fill="#fff" stroke="#000" stroke-width="1.15"/>
<circle cx="191.6" cy="567.2" r="5.2" fill="#fff" stroke="#000" stroke-width="1.15"/>
<circle cx="285.9" cy="563.4" r="5.2" fill="#fff" stroke="#000" stroke-width="1.15"/>
<circle cx="253.1" cy="562.5" r="5.2" fill="#fff" stroke="#000" stroke-width="1.15"/>
<circle cx="278.5" cy="559.0" r="5.2" fill="#fff" stroke="#000" stroke-width="1.15"/>
<circle cx="243.1" cy="556.4" r="5.2" fill="#fff" stroke="#000" stroke-width="1.15"/>
<circle cx="253.1" cy="556.4" r="5.2" fill="#fff" stroke="#000" stroke-width="1.15"/>
<circle cx="349.7" cy="556.0" r="5.2" fill="#fff" stroke="#000" stroke-width="1.15"/>
<circle cx="262.2" cy="551.5" r="5.2" fill="#fff" stroke="#000" stroke-width="1.15"/>
<circle cx="220.3" cy="551.1" r="5.2" fill="#fff" stroke="#000" stroke-width="1.15"/>
<circle cx="243.1" cy="551.1" r="5.2" fill="#fff" stroke="#000" stroke-width="1.15"/>
<circle cx="253.1" cy="549.3" r="5.2" fill="#fff" stroke="#000" stroke-width="1.15"/>
<circle cx="368.5" cy="547.1" r="5.2" fill="#fff" stroke="#000" stroke-width="1.15"/>
<circle cx="232.3" cy="546.7" r="5.2" fill="#fff" stroke="#000" stroke-width="1.15"/>
<circle cx="94.9" cy="546.6" r="5.2" fill="#fff" stroke="#000" stroke-width="1.15"/>
<circle cx="375.2" cy="540.9" r="5.2" fill="#fff" stroke="#000" stroke-width="1.15"/>
<circle cx="153.2" cy="540.4" r="5.2" fill="#fff" stroke="#000" stroke-width="1.15"/>
<circle cx="270.7" cy="537.6" r="5.2" fill="#fff" stroke="#000" stroke-width="1.15"/>
<circle cx="353.7" cy="537.6" r="5.2" fill="#fff" stroke="#000" stroke-width="1.15"/>
<circle cx="206.8" cy="536.2" r="5.2" fill="#fff" stroke="#000" stroke-width="1.15"/>
<circle cx="292.8" cy="533.2" r="5.2" fill="#fff" stroke="#000" stroke-width="1.15"/>
<circle cx="305.5" cy="530.1" r="5.2" fill="#fff" stroke="#000" stroke-width="1.15"/>
<circle cx="153.2" cy="524.3" r="5.2" fill="#fff" stroke="#000" stroke-width="1.15"/>
<circle cx="191.6" cy="519.4" r="5.2" fill="#fff" stroke="#000" stroke-width="1.15"/>
<circle cx="153.2" cy="516.8" r="5.2" fill="#fff" stroke="#000" stroke-width="1.15"/>
<circle cx="191.6" cy="511.2" r="5.2" fill="#fff" stroke="#000" stroke-width="1.15"/>
<circle cx="220.3" cy="498.9" r="5.2" fill="#fff" stroke="#000" stroke-width="1.15"/>
<circle cx="278.5" cy="495.9" r="5.2" fill="#fff" stroke="#000" stroke-width="1.15"/>
<circle cx="220.3" cy="483.7" r="5.2" fill="#fff" stroke="#000" stroke-width="1.15"/>
<line x1="71.0" y1="575.2" x2="528.2" y2="628.5" stroke="#000" stroke-width="1.5"/>
<line x1="71.0" y1="612.9" x2="528.2" y2="676.6" stroke="#000" stroke-width="1.5"/>
<text x="381.1" y="565.2" font-size="16" textLength="231.3" lengthAdjust="spacingAndGlyphs" font-family="Liberation Serif" font-weight="bold">ln(RMSSD) = 4.4 - 0.15 · ln(PRA);</text>
<text x="381.6" y="579.3" font-size="16" font-family="Liberation Serif" font-weight="bold"><tspan font-style="italic">r</tspan> = -0.19 (Normotensive)</text>
<text x="381.1" y="697.2" font-size="16" textLength="231.4" lengthAdjust="spacingAndGlyphs" font-family="Liberation Serif" font-weight="bold">ln(RMSSD) = 4.2 - 0.18 · ln(PRA);</text>
<text x="381.6" y="710.9" font-size="16" font-family="Liberation Serif" font-weight="bold" xml:space="preserve"><tspan font-style="italic">r</tspan> = -0.23  (Hypertensive)</text>
<text transform="translate(20,704.5) rotate(-90)" font-size="19" font-family="Liberation Serif" font-weight="bold">ln transformed RMSSD</text>
<text x="208.3" y="859.4" font-size="19" font-family="Liberation Serif" font-weight="bold">ln transformed PRA</text>
</svg>
</body></html>
